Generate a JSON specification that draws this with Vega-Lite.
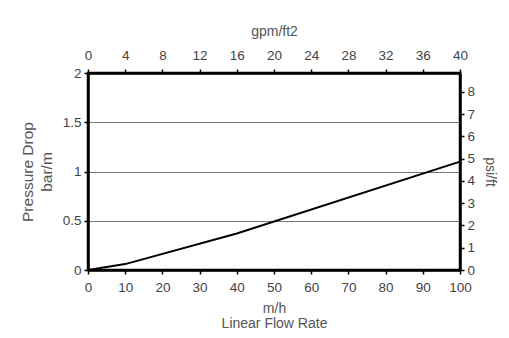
{
  "$schema": "https://vega.github.io/schema/vega-lite/v6.json",
  "width": 372,
  "height": 197,
  "autosize": {"type": "none"},
  "padding": {"left": 88, "top": 73, "right": 49, "bottom": 68},
  "background": "white",
  "config": {
    "view": {"stroke": "black", "strokeWidth": 2.5},
    "axis": {
      "labelFont": "Liberation Sans",
      "titleFont": "Liberation Sans",
      "labelFontSize": 13.5,
      "titleFontSize": 14,
      "titleFontWeight": "normal",
      "labelColor": "#444",
      "titleColor": "#555",
      "domainColor": "black",
      "domainWidth": 2.5,
      "tickColor": "black",
      "tickWidth": 1.5,
      "tickSize": 4,
      "labelFlush": false,
      "labelOverlap": false,
      "format": "~r",
      "grid": false
    }
  },
  "datasets": {
    "curve": [
      {"flow": 0, "drop": 0},
      {"flow": 10, "drop": 0.06},
      {"flow": 40, "drop": 0.37},
      {"flow": 100, "drop": 1.1}
    ],
    "secondary": [
      {"gpm": 0, "psi": 0},
      {"gpm": 40, "psi": 8.84}
    ]
  },
  "layer": [
    {
      "data": {"name": "curve"},
      "mark": {"type": "line", "color": "black", "strokeWidth": 2},
      "encoding": {
        "x": {
          "field": "flow", "type": "quantitative",
          "scale": {"domain": [0, 100], "nice": false},
          "axis": {"orient": "bottom", "values": [0,10,20,30,40,50,60,70,80,90,100], "title": ["m/h", "Linear Flow Rate"], "labelPadding": 6, "titlePadding": 8, "titleLineHeight": 15}
        },
        "y": {
          "field": "drop", "type": "quantitative",
          "scale": {"domain": [0, 2], "nice": false},
          "axis": {"orient": "left", "values": [0, 0.5, 1, 1.5, 2], "title": ["Pressure Drop", "bar/m"], "titleFontSize": 15.5, "grid": true, "gridColor": "#777", "gridWidth": 1.2, "gridOpacity": 1, "labelPadding": 3, "titlePadding": 8, "titleLineHeight": 19}
        }
      }
    },
    {
      "data": {"name": "secondary"},
      "mark": {"type": "point", "opacity": 0},
      "encoding": {
        "x": {
          "field": "gpm", "type": "quantitative",
          "scale": {"domain": [0, 40], "nice": false},
          "axis": {"orient": "top", "values": [0,4,8,12,16,20,24,28,32,36,40], "title": "gpm/ft2", "labelPadding": 7, "titlePadding": 10}
        },
        "y": {
          "field": "psi", "type": "quantitative",
          "scale": {"domain": [0, 8.84], "nice": false},
          "axis": {"orient": "right", "values": [0,1,2,3,4,5,6,7,8], "title": "psi/ft", "labelPadding": 3, "titlePadding": 8}
        }
      }
    }
  ],
  "resolve": {"scale": {"x": "independent", "y": "independent"}}
}
